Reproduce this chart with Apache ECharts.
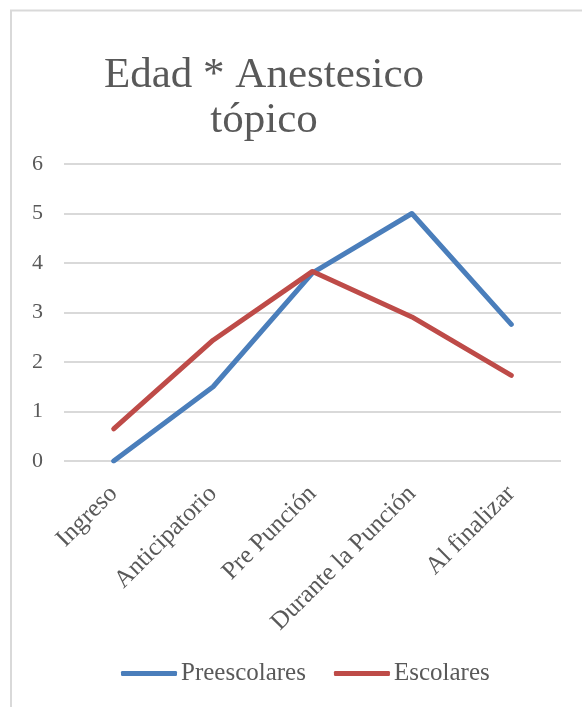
<!DOCTYPE html>
<html>
<head>
<meta charset="utf-8">
<script src="https://cdn.jsdelivr.net/npm/echarts@6/dist/echarts.min.js"></script>
<style>
html,body{margin:0;padding:0;background:#fff;}
#c{width:582px;height:707px;}
</style>
</head>
<body>
<div id="c"></div>
<script>
const categories = ['Ingreso', 'Anticipatorio', 'Pre Punción', 'Durante la Punción', 'Al finalizar'];
const preescolares = [0, 1.5, 3.8, 5.0, 2.76];
const escolares = [0.65, 2.44, 3.83, 2.91, 1.73];
const seriesNames = ['Preescolares', 'Escolares'];
const titleText = 'Edad * Anestesico\ntópico';

const FONT = '"Liberation Serif", "DejaVu Serif", serif';
const chart = echarts.init(document.getElementById('c'), null, {renderer: 'canvas'});
chart.setOption({
  animation: false,
  backgroundColor: '#fff',
  graphic: [{
    type: 'rect',
    shape: {x: 11, y: 10.5, width: 700, height: 800},
    style: {fill: 'none', stroke: '#d9d9d9', lineWidth: 2},
    silent: true, z: -1
  }],
  title: {
    text: titleText,
    left: 259, top: 48, textAlign: 'center',
    textStyle: {fontFamily: FONT, fontSize: 43, fontWeight: 'normal', color: '#595959', lineHeight: 45}
  },
  legend: {
    top: 656, left: 116,
    itemWidth: 56, itemHeight: 5, itemGap: 28,
    icon: 'roundRect',
    textStyle: {fontFamily: FONT, fontSize: 25, color: '#595959', padding: [0, 0, 0, -1]},
    data: seriesNames
  },
  grid: {left: 64, right: 21, top: 164, bottom: 246, containLabel: false},
  xAxis: {
    type: 'category',
    data: categories,
    boundaryGap: true,
    axisLine: {show: false},
    axisTick: {show: false},
    axisLabel: {rotate: 45, fontFamily: FONT, fontSize: 25, color: '#595959', margin: 29, interval: 0}
  },
  yAxis: {
    type: 'value',
    min: 0, max: 6, interval: 1,
    axisLine: {show: false},
    axisTick: {show: false},
    splitLine: {lineStyle: {color: '#d9d9d9', width: 2}},
    axisLabel: {fontFamily: FONT, fontSize: 22, color: '#595959', margin: 21}
  },
  series: [
    {name: seriesNames[0], type: 'line', data: preescolares, showSymbol: false, symbol: 'none',
     lineStyle: {color: '#4a7ebb', width: 5, cap: 'round', join: 'round'}, itemStyle: {color: '#4a7ebb'}},
    {name: seriesNames[1], type: 'line', data: escolares, showSymbol: false, symbol: 'none',
     lineStyle: {color: '#be4b48', width: 5, cap: 'round', join: 'round'}, itemStyle: {color: '#be4b48'}}
  ]
});
</script>
</body>
</html>
